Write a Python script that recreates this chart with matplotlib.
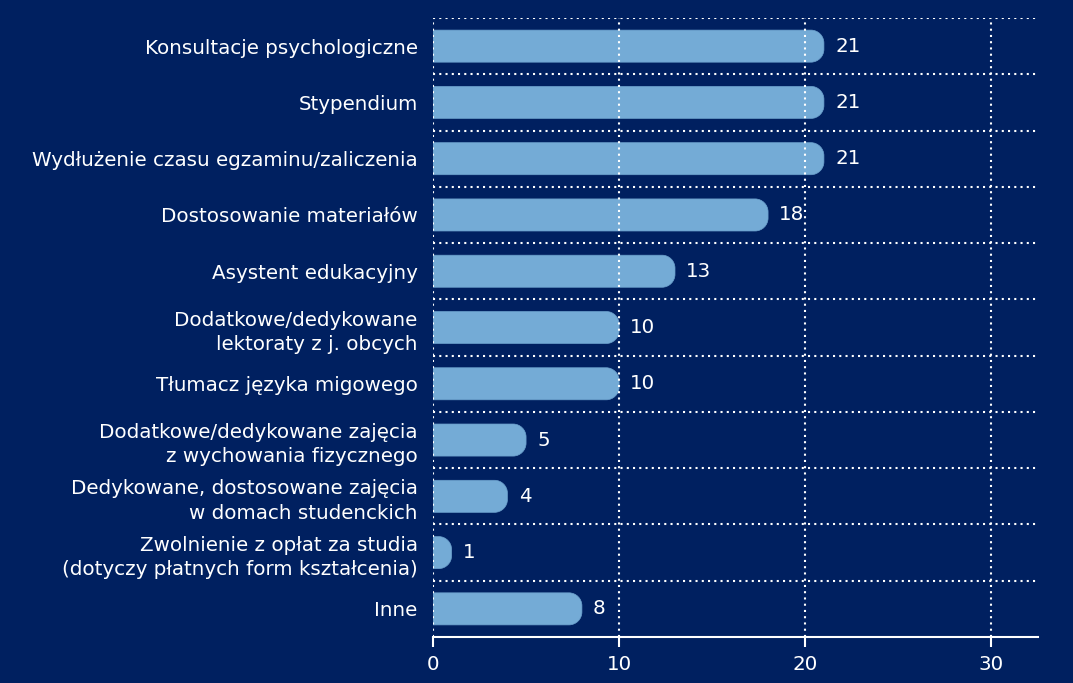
import matplotlib.pyplot as plt
from matplotlib.path import Path
from matplotlib.patches import PathPatch

categories = [
    'Konsultacje psychologiczne',
    'Stypendium',
    'Wydłużenie czasu egzaminu/zaliczenia',
    'Dostosowanie materiałów',
    'Asystent edukacyjny',
    'Dodatkowe/dedykowane\nlektoraty z j. obcych',
    'Tłumacz języka migowego',
    'Dodatkowe/dedykowane zajęcia\nz wychowania fizycznego',
    'Dedykowane, dostosowane zajęcia\nw domach studenckich',
    'Zwolnienie z opłat za studia\n(dotyczy płatnych form kształcenia)',
    'Inne',
]
values = [21, 21, 21, 18, 13, 10, 10, 5, 4, 1, 8]
xticks = [0, 10, 20, 30]

bg = '#002060'
bar_color = '#74abd6'
fs = 14.3

plt.rcParams['font.family'] = ['DejaVu Sans']

fig = plt.figure(figsize=(10.73, 6.83), dpi=100, facecolor=bg)
ax = fig.add_axes([433 / 1073, 1 - 637 / 683, (1038 - 433) / 1073, (637 - 18) / 683])
ax.set_facecolor(bg)

n = len(categories)
ypos = list(range(n))
ax.set_xlim(0, 32.5)
ax.set_ylim(n - 0.5, -0.5)

# rounded right ends: radius in pixels converted to data units
r_px = 13
sx = (1038 - 433) / 32.5
sy = (637 - 18) / n
h = 0.57
k = 0.5523
for y, v in zip(ypos, values):
    rx = min(r_px / sx, v)
    ry = r_px / sy
    y0, y1 = y - h / 2, y + h / 2
    verts = [
        (0, y0), (v - rx, y0),
        (v - rx + k * rx, y0), (v, y0 + ry - k * ry), (v, y0 + ry),
        (v, y1 - ry),
        (v, y1 - ry + k * ry), (v - rx + k * rx, y1), (v - rx, y1),
        (0, y1), (0, y0),
    ]
    codes = [Path.MOVETO, Path.LINETO,
             Path.CURVE4, Path.CURVE4, Path.CURVE4,
             Path.LINETO,
             Path.CURVE4, Path.CURVE4, Path.CURVE4,
             Path.LINETO, Path.CLOSEPOLY]
    ax.add_patch(PathPatch(Path(verts, codes), facecolor=bar_color,
                           edgecolor='#6a9fcc', linewidth=0.5, zorder=2))
    ax.text(v + 0.6, y, str(v), color='white', fontsize=fs,
            va='center', ha='left', zorder=3)

# dotted grid
dots = (0, (1, 2))
for x in xticks:
    ax.axvline(x, color='white', linestyle=dots, linewidth=1.5, zorder=3)
for b in range(n):
    ax.axhline(b - 0.5, color='white', linestyle=dots, linewidth=1.5, zorder=1)

ax.set_yticks(ypos)
ax.set_yticklabels(categories, color='white', fontsize=fs, linespacing=1.35)
ax.tick_params(axis='y', length=0, pad=11)
ax.set_xticks(xticks)
ax.set_xticklabels([str(x) for x in xticks], color='white', fontsize=fs)
ax.tick_params(axis='x', colors='white', length=7, width=1.5, pad=6)

for s in ['top', 'right', 'left']:
    ax.spines[s].set_visible(False)
ax.spines['bottom'].set_color('white')
ax.spines['bottom'].set_linewidth(1.5)

fig.savefig('out.png', facecolor=bg)
